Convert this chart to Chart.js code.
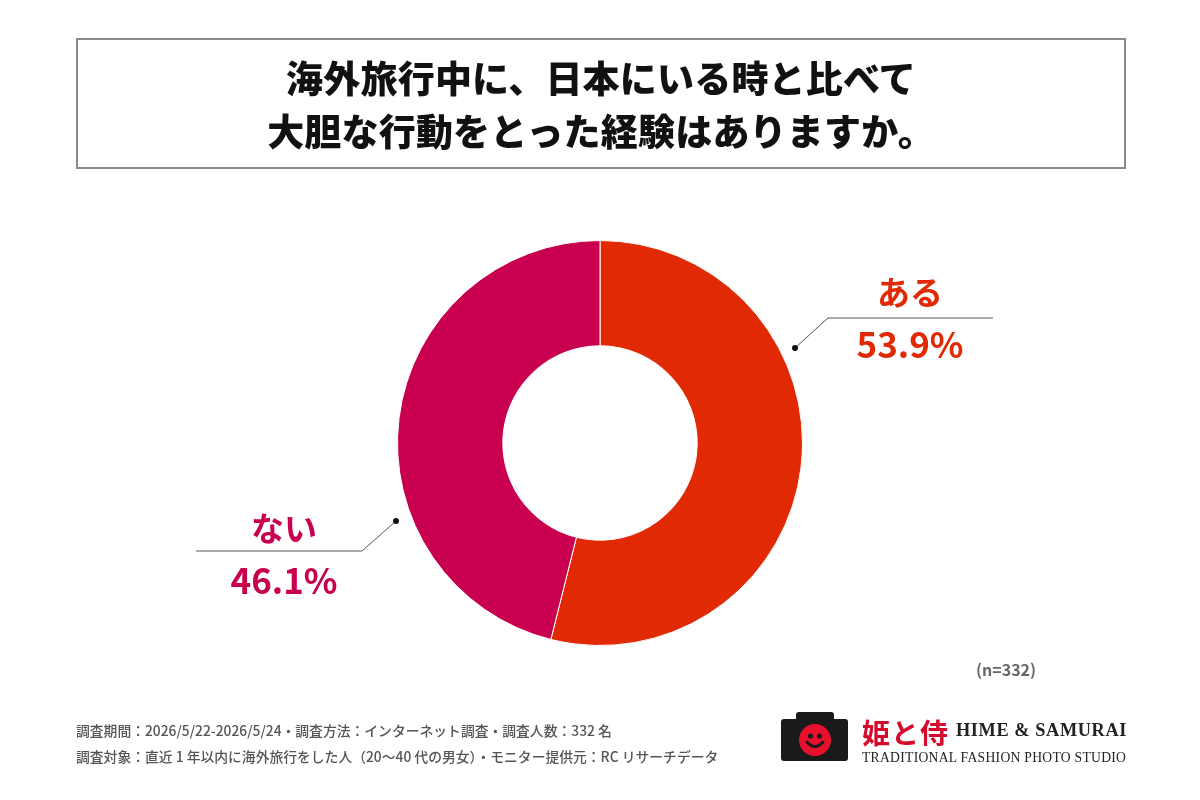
<!DOCTYPE html>
<html lang="ja">
<head>
<meta charset="utf-8">
<script src="https://cdn.jsdelivr.net/npm/chart.js@4/dist/chart.umd.min.js"></script>
<style>
    body { margin: 0; background: #fff; font-family: "Noto Sans CJK JP", sans-serif; }
    #wrap { position: relative; width: 1200px; height: 800px; overflow: hidden; }
    #chart { position: absolute; left: 0; top: 0; }
    .title-box {
        position: absolute; left: 76px; top: 38px; width: 1046px; height: 127px;
        border: 2px solid #8a8a8a; box-sizing: content-box;
        display: flex; flex-direction: column; justify-content: center; align-items: center;
        font-weight: 900; font-size: 37px; line-height: 53px; color: #111; letter-spacing: 0.2px;
    }
    .lbl { position: absolute; font-weight: 700; text-align: center; width: 240px; white-space: nowrap; }
    .lbl .name { font-size: 33px; line-height: 40px; }
    .lbl .pct { font-size: 35px; line-height: 48px; margin-top: 8px; }
    .note { position: absolute; left: 976px; top: 657px; font-size: 16px; font-weight: 700; color: #666; }
    .foot { position: absolute; left: 76px; font-size: 13.8px; font-weight: 500; color: #555; white-space: nowrap; }
    .logo { position: absolute; left: 781px; top: 708px; width: 380px; height: 60px; }
    .cam { position: absolute; left: 0; top: 4px; width: 67px; height: 49px; }
    .cam .top { position: absolute; left: 15px; top: 0; width: 38px; height: 10px; background: #1a1a1a; border-radius: 3px 3px 0 0; }
    .cam .body { position: absolute; left: 0; top: 7px; width: 67px; height: 42px; background: #1a1a1a; border-radius: 3px; }
    .cam .lens { position: absolute; left: 18px; top: 12px; width: 32px; height: 32px; background: #e8112d; border-radius: 50%; }
    .cam svg { position: absolute; left: 18px; top: 12px; }
    .hime { position: absolute; left: 81px; top: 4px; font-size: 28px; font-weight: 700; color: #d60a2c; letter-spacing: 1px; white-space: nowrap; }
    .en1 { position: absolute; left: 175px; top: 12px; font-family: "Liberation Serif", serif; font-weight: 700; font-size: 18.3px; color: #222; letter-spacing: 0.6px; white-space: nowrap; }
    .en2 { position: absolute; left: 81px; top: 42px; font-family: "Liberation Serif", serif; font-size: 13.6px; color: #222; letter-spacing: 0.3px; white-space: nowrap; }
</style>
</head>
<body>
<div id="wrap">
    <canvas id="chart" width="1200" height="800"></canvas>
    <div class="title-box">
        <div id="title1"></div>
        <div id="title2"></div>
    </div>
    <div class="lbl" id="lbl0" style="left:790px; top:271px;"><div class="name"></div><div class="pct"></div></div>
    <div class="lbl" id="lbl1" style="left:164px; top:507px;"><div class="name"></div><div class="pct"></div></div>
    <div class="note" id="note"></div>
    <div class="foot" id="foot1" style="top:720px;"></div>
    <div class="foot" id="foot2" style="top:746px;"></div>
    <div class="logo">
        <div class="cam">
            <div class="top"></div>
            <div class="body"></div>
            <div class="lens"></div>
            <svg width="32" height="32" viewBox="0 0 32 32">
                <circle cx="11.5" cy="12" r="2.6" fill="#1a1a1a"/>
                <circle cx="20.5" cy="12" r="2.6" fill="#1a1a1a"/>
                <path d="M8 18 Q16 27 24 18" stroke="#1a1a1a" stroke-width="3" fill="none" stroke-linecap="round"/>
            </svg>
        </div>
        <div class="hime">姫と侍</div>
        <div class="en1">HIME &amp; SAMURAI</div>
        <div class="en2">TRADITIONAL FASHION PHOTO STUDIO</div>
    </div>
</div>
<script>
const titleLines = ['海外旅行中に、日本にいる時と比べて', '大胆な行動をとった経験はありますか。'];
const categories = ['ある', 'ない'];
const values = [53.9, 46.1];
const colors = ['#e12a04', '#c8004f'];
const sampleNote = '(n=332)';
const footLines = [
    '調査期間：2026/5/22-2026/5/24・調査方法：インターネット調査・調査人数：332 名',
    '調査対象：直近 1 年以内に海外旅行をした人（20〜40 代の男女）・モニター提供元：RC リサーチデータ'
];

document.getElementById('title1').textContent = titleLines[0];
document.getElementById('title2').textContent = titleLines[1];
document.getElementById('note').textContent = sampleNote;
document.getElementById('foot1').textContent = footLines[0];
document.getElementById('foot2').textContent = footLines[1];
categories.forEach((c, i) => {
    const el = document.getElementById('lbl' + i);
    el.querySelector('.name').textContent = c;
    el.querySelector('.pct').textContent = values[i].toFixed(1) + '%';
    el.style.color = colors[i];
});

// leader lines, offsets from the donut centre
const leaders = [
    [[195, -95], [228, -125], [393, -125]],
    [[-204, 78], [-238, 108], [-404, 108]]
];

const leaderPlugin = {
    id: 'leaders',
    afterDatasetsDraw(chart) {
        const arc = chart.getDatasetMeta(0).data[0];
        if (!arc) return;
        const ctx = chart.ctx;
        const cx = arc.x, cy = arc.y;
        ctx.save();
        leaders.forEach(pts => {
            ctx.strokeStyle = '#555';
            ctx.lineWidth = 1;
            ctx.beginPath();
            ctx.moveTo(cx + pts[0][0], cy + pts[0][1]);
            ctx.lineTo(cx + pts[1][0], cy + pts[1][1]);
            ctx.lineTo(cx + pts[2][0], cy + pts[2][1]);
            ctx.stroke();
            ctx.fillStyle = '#111';
            ctx.beginPath();
            ctx.arc(cx + pts[0][0], cy + pts[0][1], 3, 0, Math.PI * 2);
            ctx.fill();
        });
        ctx.restore();
    }
};

new Chart(document.getElementById('chart').getContext('2d'), {
    type: 'doughnut',
    data: {
        labels: categories,
        datasets: [{
            data: values,
            backgroundColor: colors,
            borderColor: '#ffffff',
            borderWidth: 1
        }]
    },
    options: {
        responsive: false,
        animation: false,
        cutout: '48%',
        layout: { padding: { top: 240, bottom: 154, left: 397, right: 397 } },
        plugins: {
            legend: { display: false },
            tooltip: { enabled: false }
        }
    },
    plugins: [leaderPlugin]
});
</script>
</body>
</html>
